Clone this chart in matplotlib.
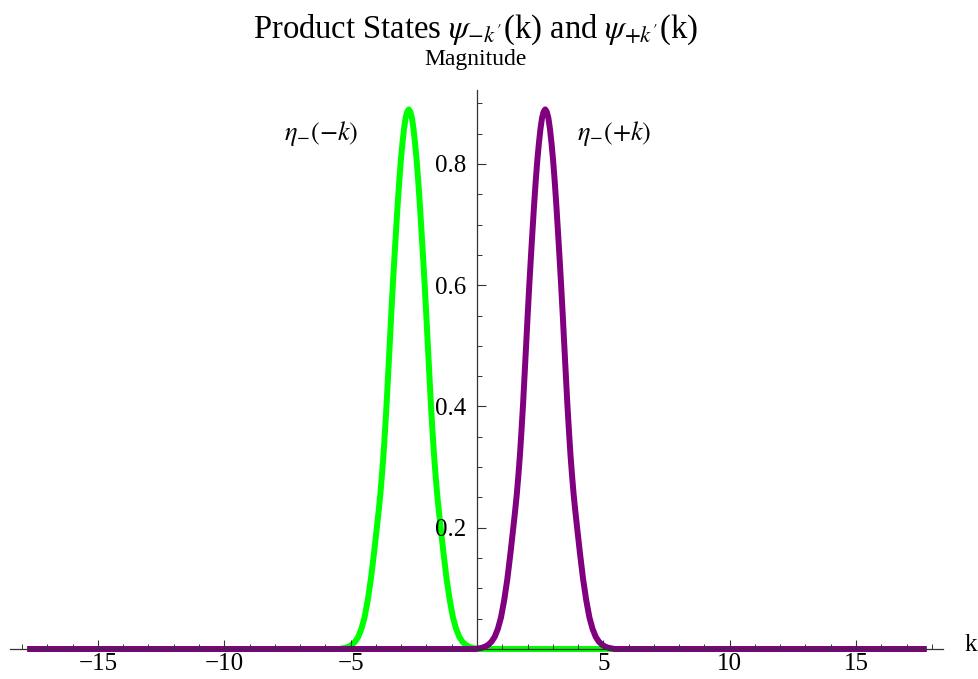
import matplotlib
matplotlib.use("Agg")
import matplotlib.pyplot as plt
from matplotlib.ticker import MultipleLocator, FixedLocator

plt.rcParams['font.family'] = ['Liberation Serif', 'DejaVu Serif']
plt.rcParams['mathtext.fontset'] = 'stix'

# ---- data ----
k_green = [-17.8, -5.45, -5.325, -5.2, -5.075, -4.95, -4.825, -4.7, -4.575, -4.45,
           -4.325, -4.2, -4.075, -3.95, -3.8875, -3.825, -3.7625, -3.7, -3.6375,
           -3.575, -3.5125, -3.45, -3.3875, -3.325, -3.2625, -3.2, -3.1375, -3.075,
           -3.0125, -2.95, -2.8875, -2.825, -2.7625, -2.7, -2.6375, -2.575, -2.5125,
           -2.45, -2.3875, -2.325, -2.2625, -2.2, -2.1375, -2.075, -2.0125, -1.95,
           -1.8875, -1.825, -1.7625, -1.7, -1.6375, -1.575, -1.5125, -1.45, -1.325,
           -1.2, -1.075, -0.95, -0.825, -0.7, -0.575, -0.45, -0.325, -0.2, -0.075,
           0.05, 17.8]
m_green = [0.0, 0.0, 0.001, 0.002, 0.004, 0.007, 0.012, 0.020, 0.033, 0.052,
           0.080, 0.115, 0.158, 0.205, 0.229, 0.255, 0.286, 0.320, 0.361,
           0.405, 0.455, 0.505, 0.556, 0.604, 0.649, 0.692, 0.734, 0.772,
           0.806, 0.834, 0.858, 0.876, 0.886, 0.890, 0.886, 0.876, 0.858,
           0.834, 0.806, 0.772, 0.734, 0.692, 0.649, 0.604, 0.556, 0.505,
           0.455, 0.405, 0.361, 0.320, 0.286, 0.255, 0.229, 0.205, 0.158,
           0.115, 0.080, 0.052, 0.033, 0.020, 0.012, 0.007, 0.004, 0.002, 0.001,
           0.0, 0.0]

k_purple = [-17.8, -0.05, 0.075, 0.2, 0.325, 0.45, 0.575, 0.7, 0.825, 0.95,
            1.075, 1.2, 1.325, 1.45, 1.5125, 1.575, 1.6375, 1.7, 1.7625,
            1.825, 1.8875, 1.95, 2.0125, 2.075, 2.1375, 2.2, 2.2625, 2.325,
            2.3875, 2.45, 2.5125, 2.575, 2.6375, 2.7, 2.7625, 2.825, 2.8875,
            2.95, 3.0125, 3.075, 3.1375, 3.2, 3.2625, 3.325, 3.3875, 3.45,
            3.5125, 3.575, 3.6375, 3.7, 3.7625, 3.825, 3.8875, 3.95, 4.075,
            4.2, 4.325, 4.45, 4.575, 4.7, 4.825, 4.95, 5.075, 5.2, 5.325,
            5.45, 17.8]
m_purple = [0.0, 0.0, 0.001, 0.002, 0.004, 0.007, 0.012, 0.020, 0.033, 0.052,
            0.080, 0.115, 0.158, 0.205, 0.229, 0.255, 0.286, 0.320, 0.361,
            0.405, 0.455, 0.505, 0.556, 0.604, 0.649, 0.692, 0.734, 0.772,
            0.806, 0.834, 0.858, 0.876, 0.886, 0.890, 0.886, 0.876, 0.858,
            0.834, 0.806, 0.772, 0.734, 0.692, 0.649, 0.604, 0.556, 0.505,
            0.455, 0.405, 0.361, 0.320, 0.286, 0.255, 0.229, 0.205, 0.158,
            0.115, 0.080, 0.052, 0.033, 0.020, 0.012, 0.007, 0.004, 0.002, 0.001,
            0.0, 0.0]

x_major = [-15, -10, -5, 5, 10, 15]
x_major_labels = ['\u221215', '\u221210', '\u22125', '5', '10', '15']
y_major = [0.2, 0.4, 0.6, 0.8]
y_major_labels = ['0.2', '0.4', '0.6', '0.8']

title = r"Product States $\psi_{-k'}$(k) and $\psi_{+k'}$(k)"
ylabel = "Magnitude"
xlabel = "k"
label_left = r"$\eta_{-}(-k)$"
label_right = r"$\eta_{-}(+k)$"

# ---- figure ----
W, H = 979, 679
fig = plt.figure(figsize=(W / 100, H / 100), dpi=100)
x0_px, x1_px = 10, 942.7
y0_px, y1_px = 649.0, 90.0
ax = fig.add_axes([x0_px / W, (H - y0_px) / H, (x1_px - x0_px) / W, (y0_px - y1_px) / H])
ax.set_xlim(-18.48, 18.43)
ax.set_ylim(0, 0.922)

ax.plot(k_green, m_green, color='#00FF00', lw=4.3, solid_capstyle='butt',
        solid_joinstyle='round', clip_on=False, zorder=2)
ax.plot(k_purple, m_purple, color='#800080', lw=4.3, solid_capstyle='butt',
        solid_joinstyle='round', clip_on=False, zorder=2.1)

axis_col = '#333333'
for s in ['top', 'right']:
    ax.spines[s].set_visible(False)
ax.spines['left'].set_position(('data', 0))
ax.spines['bottom'].set_position(('data', 0))
for s in ['left', 'bottom']:
    ax.spines[s].set_color(axis_col)
    ax.spines[s].set_linewidth(0.9)
    ax.spines[s].set_zorder(3)
ax.set_axisbelow(False)

ax.xaxis.set_major_locator(FixedLocator(x_major))
ax.set_xticklabels(x_major_labels)
ax.xaxis.set_minor_locator(MultipleLocator(1))
ax.yaxis.set_major_locator(FixedLocator(y_major))
ax.set_yticklabels(y_major_labels)
ax.yaxis.set_minor_locator(MultipleLocator(0.05))

ax.tick_params(axis='both', which='major', direction='in', length=6.5, width=0.8,
               color=axis_col, labelsize=18)
ax.tick_params(axis='both', which='minor', direction='in', length=3.8, width=0.7,
               color=axis_col)
ax.tick_params(axis='x', which='major', pad=3)
ax.tick_params(axis='y', which='major', pad=8)

fig.text(476 / W, 1 - 30 / H, title, ha='center', va='center', fontsize=23.5)
fig.text(476 / W, 1 - 59 / H, ylabel, ha='center', va='center', fontsize=17)
fig.text(971 / W, 1 - 645 / H, xlabel, ha='center', va='center', fontsize=18)
fig.text(321 / W, 1 - 133 / H, label_left, ha='center', va='center', fontsize=19)
fig.text(614 / W, 1 - 133 / H, label_right, ha='center', va='center', fontsize=19)

fig.savefig('out.png', dpi=100)
